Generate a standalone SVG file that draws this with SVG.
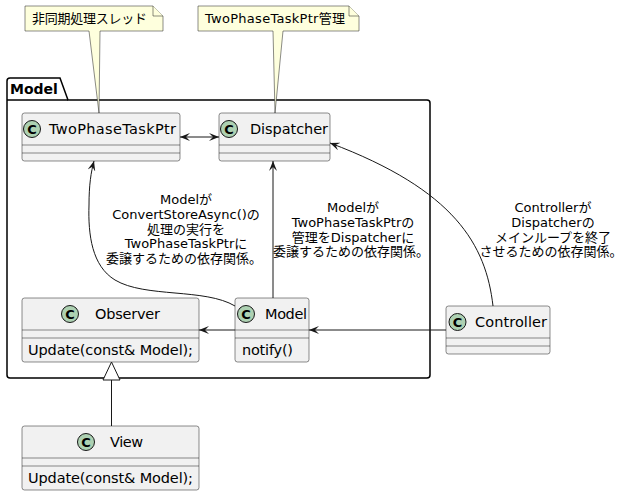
<svg xmlns="http://www.w3.org/2000/svg" width="633" height="495" viewBox="0 0 633 495">
<style>
text{font-family:"DejaVu Sans","Noto Sans CJK JP",sans-serif;fill:#000}
.cls{fill:#F1F1F1;stroke:#181818;stroke-width:0.5}
.ln{stroke:#181818;stroke-width:0.5}
.circ{fill:#ADD1B2;stroke:#181818;stroke-width:1}
.cc{font-size:13px;font-weight:bold;text-anchor:middle}
.nm{font-size:14.5px}
.mt{font-size:14.5px}
.note{fill:#FEFFDD;stroke:#181818;stroke-width:0.5}
.nt{font-size:13px}
.lb{font-size:13px;text-anchor:middle}
.edge{fill:none;stroke:#181818;stroke-width:1}
</style>
<defs>
<marker id="arr" viewBox="0 0 10 8" markerWidth="10" markerHeight="8" refX="10" refY="4" orient="auto-start-reverse" markerUnits="userSpaceOnUse">
<path d="M0,0 L10,4 L0,8 L4,4 Z" fill="#181818"/>
</marker>
</defs>
<rect width="633" height="495" fill="#FFFFFF"/>
<g id="pkg-Model">
<path d="M10,78 L60,78 L68,100 L427,100 Q430,100 430,103 L430,375 Q430,378 427,378 L10,378 Q7,378 7,375 L7,81 Q7,78 10,78 Z" fill="none" stroke="#000" stroke-width="1.5"/>
<line x1="7" y1="100" x2="68" y2="100" stroke="#000" stroke-width="1.5"/>
<text x="10" y="94" font-size="14" font-weight="bold">Model</text>
</g>
<g id="note1">
<path class="note" d="M25,6 L153,6 L163,16 L163,31 L100,31 L99,113 L89,31 L25,31 Z"/>
<path class="note" d="M153,6 L153,16 L163,16"/>
<text class="nt" x="32" y="23" textLength="115" lengthAdjust="spacing">非同期処理スレッド</text>
</g>
<g id="note2">
<path class="note" d="M198,6 L349,6 L359,16 L359,31 L283,31 L275,113 L273,31 L198,31 Z"/>
<path class="note" d="M349,6 L349,16 L359,16"/>
<text class="nt" x="205" y="23" textLength="140" lengthAdjust="spacing">TwoPhaseTaskPtr管理</text>
</g>
<g id="TwoPhaseTaskPtr">
<rect class="cls" x="22" y="113" width="158" height="48" rx="2.5"/>
<line class="ln" x1="22" y1="145" x2="180" y2="145"/>
<line class="ln" x1="22" y1="153" x2="180" y2="153"/>
<circle class="circ" cx="32" cy="129" r="8.5"/>
<text class="cc" x="32" y="133.5">C</text>
<text class="nm" x="49" y="134" textLength="127" lengthAdjust="spacing">TwoPhaseTaskPtr</text>
</g>
<g id="Dispatcher">
<rect class="cls" x="219" y="113" width="111" height="48" rx="2.5"/>
<line class="ln" x1="219" y1="145" x2="330" y2="145"/>
<line class="ln" x1="219" y1="153" x2="330" y2="153"/>
<circle class="circ" cx="229" cy="129" r="8.5"/>
<text class="cc" x="229" y="133.5">C</text>
<text class="nm" x="250" y="134" textLength="78" lengthAdjust="spacing">Dispatcher</text>
</g>
<g id="Observer">
<rect class="cls" x="22" y="298" width="177" height="64" rx="2.5"/>
<line class="ln" x1="22" y1="330" x2="199" y2="330"/>
<line class="ln" x1="22" y1="338" x2="199" y2="338"/>
<circle class="circ" cx="70" cy="314" r="8.5"/>
<text class="cc" x="70" y="318.5">C</text>
<text class="nm" x="95" y="319" textLength="65" lengthAdjust="spacing">Observer</text>
<text class="mt" x="28" y="355" textLength="165" lengthAdjust="spacing">Update(const&amp; Model);</text>
</g>
<g id="Model">
<rect class="cls" x="235" y="298" width="74" height="64" rx="2.5"/>
<line class="ln" x1="235" y1="330" x2="309" y2="330"/>
<line class="ln" x1="235" y1="338" x2="309" y2="338"/>
<circle class="circ" cx="246" cy="314" r="8.5"/>
<text class="cc" x="246" y="318.5">C</text>
<text class="nm" x="265" y="319" textLength="42" lengthAdjust="spacing">Model</text>
<text class="mt" x="242" y="355" textLength="51" lengthAdjust="spacing">notify()</text>
</g>
<g id="Controller">
<rect class="cls" x="446" y="306" width="104" height="48" rx="2.5"/>
<line class="ln" x1="446" y1="338" x2="550" y2="338"/>
<line class="ln" x1="446" y1="346" x2="550" y2="346"/>
<circle class="circ" cx="457.5" cy="322" r="8.5"/>
<text class="cc" x="457.5" y="326.5">C</text>
<text class="nm" x="475" y="327" textLength="72" lengthAdjust="spacing">Controller</text>
</g>
<g id="View">
<rect class="cls" x="22" y="426" width="177" height="64" rx="2.5"/>
<line class="ln" x1="22" y1="458" x2="199" y2="458"/>
<line class="ln" x1="22" y1="466" x2="199" y2="466"/>
<circle class="circ" cx="86" cy="442" r="8.5"/>
<text class="cc" x="86" y="446.5">C</text>
<text class="nm" x="110" y="447" textLength="33" lengthAdjust="spacing">View</text>
<text class="mt" x="28" y="483" textLength="165" lengthAdjust="spacing">Update(const&amp; Model);</text>
</g>
<g id="connectors">
<path class="edge" d="M180,137 L219,137" marker-start="url(#arr)" marker-end="url(#arr)"/>
<path class="edge" d="M235,306 C205,288 145,298 115,280 C92,266 88,235 89,205 C89,185 91,172 94,161" marker-end="url(#arr)"/>
<path class="edge" d="M273,298 L273,161" marker-end="url(#arr)"/>
<path class="edge" d="M235,330 L199,330" marker-end="url(#arr)"/>
<path class="edge" d="M446,330 L309,330" marker-end="url(#arr)"/>
<path class="edge" d="M493,306 C486,245 455,190 330,143" marker-end="url(#arr)"/>
<path class="edge" d="M111.5,426 L111.5,380"/>
<path d="M111.5,362 L103,380 L120,380 Z" fill="#FFFFFF" stroke="#181818" stroke-width="1"/>
<text class="lb" x="186" y="204">Modelが</text>
<text class="lb" x="186" y="218.8">ConvertStoreAsync()の</text>
<text class="lb" x="186" y="233.6">処理の実行を</text>
<text class="lb" x="186" y="248.4">TwoPhaseTaskPtrに</text>
<text class="lb" x="184" y="263">委譲するための依存関係。</text>
<text class="lb" x="353" y="212">Modelが</text>
<text class="lb" x="353" y="226.8">TwoPhaseTaskPtrの</text>
<text class="lb" x="353" y="241.6">管理をDispatcherに</text>
<text class="lb" x="351" y="256.4">委譲するための依存関係。</text>
<text class="lb" x="553" y="212">Controllerが</text>
<text class="lb" x="553" y="226.8">Dispatcherの</text>
<text class="lb" x="553" y="241.6">メインループを終了</text>
<text class="lb" x="551" y="256.4">させるための依存関係。</text>
</g>
</svg>
